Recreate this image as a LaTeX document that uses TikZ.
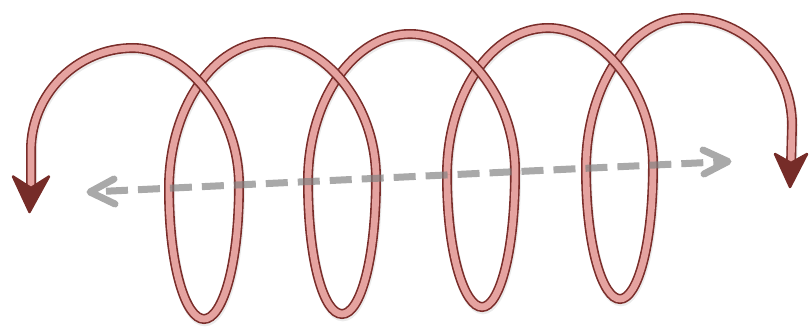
\documentclass[tikz,border=0pt]{standalone}
\usetikzlibrary{calc}
\definecolor{tubefill}{RGB}{229,163,160}
\definecolor{tubeline}{RGB}{122,45,42}
\definecolor{headcol}{RGB}{118,44,40}
\definecolor{axisgray}{RGB}{128,128,128}
\tikzset{
  tube/.style={draw=tubeline, line width=1.6pt, double=tubefill, double distance=6.8pt, line cap=butt},
  tubeshadow/.style={draw=black, opacity=0.08, line width=10.5pt, line cap=butt,
     transform canvas={shift={(0.8pt,-2pt)}}},
  tubehead/.style={fill=headcol, draw=headcol, line width=2.5pt, line join=round},
  axisline/.style={draw=axisgray, line width=7pt},
  axistip/.style={draw=axisgray, line width=7pt, line cap=round, line join=round}
}
\begin{document}
\begin{tikzpicture}[x=1pt,y=-1pt]
\useasboundingbox (0,0) rectangle (810,329);
% segment paths (drawn right to left so descending arcs lie on top)
\def\segE{(586,168) .. controls (586,86) and (631,18) .. (687,18)
   .. controls (745,18) and (792,66) .. (792,125) -- (791,166)}
\def\segD{(447,175) .. controls (447,94) and (492,28) .. (548,28)
   .. controls (600,28) and (653,90) .. (653,165)
   .. controls (653,247) and (637,299) .. (620,299)
   .. controls (603,299) and (586,248) .. (586,168)}
\def\segC{(308,181) .. controls (308,100) and (354,34) .. (410,34)
   .. controls (462,34) and (515,96) .. (515,171)
   .. controls (515,254) and (499,307) .. (482,307)
   .. controls (465,307) and (447,256) .. (447,175)}
\def\segB{(169,188) .. controls (169,108) and (214,42) .. (270,42)
   .. controls (323,42) and (376,103) .. (376,178)
   .. controls (376,261) and (360,314) .. (342,314)
   .. controls (324,314) and (308,262) .. (308,181)}
\def\segA{(31,189) -- (31,150) .. controls (31,94) and (77,48) .. (133,48)
   .. controls (183,48) and (239,110) .. (239,185)
   .. controls (239,267) and (222,319) .. (204,319)
   .. controls (186,319) and (169,268) .. (169,188)}
\foreach \s in {\segE,\segD,\segC,\segB,\segA}{
  \draw[tubeshadow] \s;
  \draw[tube] \s;
}
% arrowheads of the tube
\filldraw[tubehead] (29.5,212) -- (49,176.5) -- (31,188) -- (13,176.5) -- cycle;
\filldraw[tubehead] (790,187) -- (807,154) -- (791,163) -- (775,154) -- cycle;
% dashed axis
\coordinate (dl) at (90,192);
\coordinate (dr) at (728,161.5);
\begin{scope}[transparency group, opacity=0.68]
  \draw[axisline, dash pattern=on 22pt off 10pt, dash phase=16pt] (dl) -- (dr);
  \draw[axistip] (114,179) -- (dl) -- (115,204);
  \draw[axistip] (703,150) -- (dr) -- (704,174);
\end{scope}
\end{tikzpicture}
\end{document}
